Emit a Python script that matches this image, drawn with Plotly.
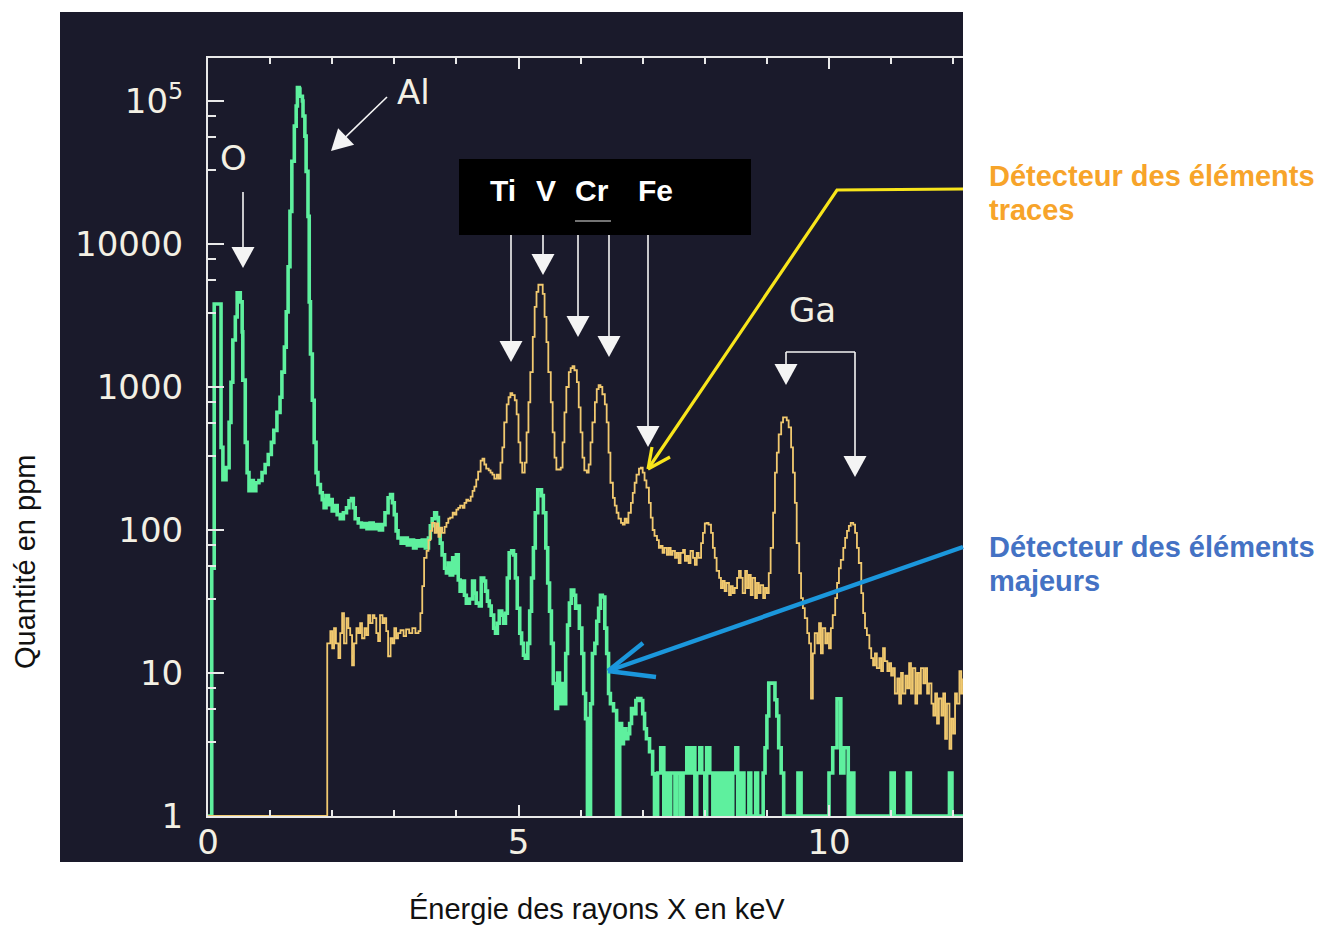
import plotly.graph_objects as go

# ---------------- data ----------------
# "Détecteur des éléments majeurs" (green) : energy (keV) / amount (ppm), step spectrum
green_kev = [
    0.00, 0.06, 0.10, 0.21, 0.24, 0.29, 0.34, 0.37, 0.40, 0.44,
    0.47, 0.52, 0.55, 0.56, 0.60, 0.63, 0.66, 0.69, 0.73, 0.77,
    0.82, 0.87, 0.92, 0.97, 1.02, 1.06, 1.11, 1.16, 1.19, 1.23,
    1.26, 1.29, 1.32, 1.35, 1.39, 1.42, 1.44, 1.47, 1.48, 1.52,
    1.53, 1.56, 1.58, 1.61, 1.63, 1.65, 1.68, 1.71, 1.74, 1.77,
    1.81, 1.84, 1.87, 1.90, 1.94, 1.97, 2.00, 2.03, 2.08, 2.13,
    2.18, 2.23, 2.27, 2.31, 2.34, 2.37, 2.42, 2.47, 2.52, 2.56,
    2.61, 2.66, 2.71, 2.76, 2.81, 2.85, 2.90, 2.94, 2.97, 3.00,
    3.03, 3.06, 3.11, 3.16, 3.21, 3.26, 3.31, 3.35, 3.40, 3.45,
    3.50, 3.55, 3.58, 3.61, 3.65, 3.68, 3.71, 3.74, 3.77, 3.81,
    3.84, 3.87, 3.90, 3.94, 3.97, 4.00, 4.03, 4.06, 4.10, 4.13,
    4.16, 4.21, 4.26, 4.29, 4.32, 4.37, 4.40, 4.44, 4.47, 4.50,
    4.53, 4.56, 4.60, 4.63, 4.66, 4.69, 4.73, 4.76, 4.79, 4.82,
    4.85, 4.89, 4.92, 4.95, 4.98, 5.02, 5.05, 5.08, 5.11, 5.15,
    5.18, 5.21, 5.24, 5.27, 5.31, 5.34, 5.37, 5.40, 5.44, 5.47,
    5.50, 5.53, 5.56, 5.60, 5.63, 5.66, 5.69, 5.73, 5.76, 5.79,
    5.82, 5.85, 5.89, 5.92, 5.95, 5.98, 6.02, 6.05, 6.08, 6.11,
    6.16, 6.19, 6.23, 6.26, 6.29, 6.32, 6.35, 6.39, 6.42, 6.45,
    6.48, 6.53, 6.58, 6.63, 6.66, 6.69, 6.73, 6.76, 6.79, 6.82,
    6.85, 6.89, 6.92, 6.97, 7.00, 7.03, 7.06, 7.11, 7.16, 7.19,
    7.24, 7.29, 7.34, 7.37, 7.42, 7.45, 7.52, 7.55, 7.61, 7.65,
    7.71, 7.76, 7.81, 7.84, 7.87, 7.92, 7.95, 8.00, 8.03, 8.08,
    8.13, 8.16, 8.21, 8.26, 8.31, 8.35, 8.40, 8.45, 8.50, 8.53,
    8.58, 8.63, 8.71, 8.74, 8.82, 8.85, 8.94, 8.97, 9.00, 9.03,
    9.13, 9.16, 9.19, 9.23, 9.27, 9.50, 9.55, 10.00, 10.06, 10.13,
    10.19, 10.24, 10.31, 10.35, 10.40, 11.00, 11.05, 11.26, 11.31, 11.94,
    11.98, 12.16,
]
green_ppm = [
    1, 54, 3810, 378, 225, 273, 566, 1080, 2130, 3090,
    4560, 3940, 2430, 1117, 410, 252, 188, 222, 188, 214,
    222, 252, 287, 337, 410, 497, 665, 848, 1270, 1900,
    3350, 6940, 16900, 37900, 66700, 92300, 124000, 121000, 108000, 100000,
    78500, 56800, 32200, 15600, 3940, 1700, 808, 410, 252, 208,
    182, 163, 143, 174, 150, 163, 136, 148, 128, 120,
    132, 143, 160, 166, 143, 120, 112, 105, 111, 102,
    112, 102, 109, 100, 109, 132, 168, 177, 155, 128,
    98.6, 88, 81, 88, 78.7, 85, 75, 84, 77.4, 85,
    75, 88, 107, 120, 132, 122, 98.6, 81, 67, 54,
    50, 58.8, 48.5, 63.8, 50, 67, 44.7, 37.4, 44, 35,
    30.8, 32.9, 44, 36.2, 30.8, 29.4, 46.2, 44, 37.4, 31.8,
    29.4, 25.4, 20.6, 19, 22.3, 27.1, 25.4, 22.3, 26.2, 46.2,
    69.2, 71.4, 67, 46.2, 28.4, 19, 16.1, 13.3, 12.7, 16.1,
    27.1, 46.2, 75, 132, 191, 191, 174, 132, 75, 42.6,
    27.1, 16.1, 8.45, 5.64, 10, 6.1, 8.45, 6.1, 13.7, 21.6,
    30.8, 38, 35, 28.4, 29.4, 20.6, 13.7, 7.19, 4.8, 1,
    6.1, 13.7, 16.1, 23, 28.4, 35, 34, 20.6, 13.7, 7.19,
    6.1, 5.46, 1, 4.43, 3.2, 4.08, 3.47, 3.77, 4.43, 5.64,
    5.2, 6.42, 6.63, 6.42, 5.2, 4.08, 3.47, 2.82, 1.97, 1,
    2, 3, 1, 2, 1, 2, 1, 2, 1, 2,
    3, 2, 3, 1, 2, 3, 2, 1, 3, 2,
    1, 2, 1, 2, 1, 2, 1, 2, 3, 1,
    2, 1, 2, 1, 2, 1, 2, 3, 5, 8.5,
    6.5, 5, 3, 2, 1, 2, 1, 2, 3, 6.6,
    2, 3, 1, 2, 1, 2, 1, 2, 1, 2,
    1, 1,
]

# "Détecteur des éléments traces" (yellow)
yellow_kev = [
    0.00, 1.92, 1.97, 2.00, 2.03, 2.06, 2.10, 2.13, 2.16, 2.19,
    2.23, 2.26, 2.29, 2.32, 2.35, 2.39, 2.42, 2.45, 2.48, 2.52,
    2.55, 2.58, 2.61, 2.65, 2.68, 2.71, 2.74, 2.77, 2.81, 2.84,
    2.87, 2.90, 2.94, 2.97, 3.00, 3.03, 3.06, 3.10, 3.15, 3.19,
    3.24, 3.29, 3.34, 3.39, 3.42, 3.45, 3.48, 3.52, 3.55, 3.58,
    3.61, 3.65, 3.68, 3.71, 3.74, 3.77, 3.81, 3.84, 3.87, 3.90,
    3.94, 3.97, 4.00, 4.03, 4.06, 4.10, 4.13, 4.16, 4.19, 4.23,
    4.26, 4.29, 4.32, 4.35, 4.39, 4.42, 4.45, 4.48, 4.52, 4.55,
    4.58, 4.61, 4.65, 4.68, 4.71, 4.74, 4.77, 4.81, 4.84, 4.87,
    4.90, 4.94, 4.97, 5.00, 5.03, 5.06, 5.10, 5.13, 5.16, 5.19,
    5.23, 5.26, 5.29, 5.32, 5.39, 5.42, 5.45, 5.48, 5.52, 5.55,
    5.58, 5.61, 5.68, 5.71, 5.74, 5.77, 5.81, 5.84, 5.87, 5.90,
    5.94, 5.97, 6.00, 6.03, 6.06, 6.10, 6.13, 6.16, 6.19, 6.23,
    6.26, 6.29, 6.32, 6.35, 6.39, 6.42, 6.45, 6.48, 6.52, 6.55,
    6.58, 6.61, 6.65, 6.68, 6.71, 6.74, 6.77, 6.81, 6.84, 6.87,
    6.90, 6.94, 6.97, 7.00, 7.03, 7.06, 7.10, 7.13, 7.16, 7.19,
    7.23, 7.26, 7.29, 7.32, 7.35, 7.39, 7.42, 7.45, 7.48, 7.52,
    7.55, 7.58, 7.61, 7.65, 7.68, 7.71, 7.74, 7.77, 7.81, 7.84,
    7.87, 7.90, 7.94, 7.97, 8.00, 8.03, 8.06, 8.10, 8.13, 8.16,
    8.19, 8.23, 8.26, 8.29, 8.32, 8.35, 8.39, 8.42, 8.45, 8.48,
    8.52, 8.55, 8.58, 8.61, 8.65, 8.68, 8.71, 8.74, 8.77, 8.81,
    8.84, 8.87, 8.90, 8.94, 8.97, 9.00, 9.03, 9.06, 9.10, 9.13,
    9.16, 9.19, 9.23, 9.26, 9.32, 9.35, 9.39, 9.42, 9.45, 9.48,
    9.52, 9.55, 9.58, 9.61, 9.65, 9.68, 9.71, 9.74, 9.77, 9.81,
    9.84, 9.87, 9.90, 9.94, 9.97, 10.00, 10.03, 10.06, 10.10, 10.13,
    10.16, 10.19, 10.23, 10.26, 10.29, 10.32, 10.35, 10.39, 10.42, 10.45,
    10.48, 10.52, 10.55, 10.58, 10.61, 10.65, 10.68, 10.71, 10.74, 10.77,
    10.81, 10.84, 10.87, 10.90, 10.94, 10.97, 11.00, 11.03, 11.06, 11.10,
    11.13, 11.16, 11.19, 11.23, 11.26, 11.29, 11.32, 11.35, 11.39, 11.42,
    11.45, 11.48, 11.52, 11.55, 11.58, 11.61, 11.65, 11.68, 11.71, 11.74,
    11.77, 11.81, 11.84, 11.87, 11.90, 11.94, 11.97, 12.00, 12.03, 12.06,
    12.10, 12.13, 12.16,
]
yellow_ppm = [
    1, 16.1, 19.6, 14.9, 20.6, 16.1, 12.7, 19, 26.2, 16.1,
    24.2, 20.6, 18.4, 11.3, 16.1, 20.6, 19, 22.3, 17.5, 20.6,
    18.4, 25.4, 22.3, 25.4, 24.2, 19, 16.7, 25.4, 22.3, 24.2,
    19.6, 13.1, 17.5, 16.1, 20.6, 17.5, 19, 19.9, 18.1, 20.2,
    19, 20.6, 19, 19.6, 26.2, 40.5, 63.8, 71.4, 85, 98.6,
    112, 95.5, 111, 89.6, 104, 95.5, 105, 112, 120, 122,
    132, 128, 139, 143, 148, 143, 155, 163, 160, 171,
    188, 201, 225, 256, 306, 316, 287, 269, 261, 252,
    244, 229, 244, 229, 296, 378, 566, 757, 848, 904,
    876, 808, 644, 410, 296, 252, 296, 482, 782, 1270,
    2240, 3630, 4630, 5190, 4480, 3090, 2060, 1270, 782, 482,
    321, 265, 273, 410, 665, 1000, 1270, 1355, 1400, 1310,
    1080, 721, 482, 321, 261, 252, 287, 410, 566, 782,
    966, 1030, 1000, 890, 757, 566, 348, 214, 168, 148,
    132, 120, 112, 109, 120, 112, 132, 155, 182, 214,
    244, 269, 273, 252, 222, 198, 155, 122, 100, 91,
    85, 75, 77.4, 69.2, 75, 67, 75, 67, 71.4, 63.8,
    69.2, 58.8, 69.2, 72.6, 60.8, 65.9, 58.8, 71.4, 63.8, 57,
    69.2, 63.8, 81, 95.5, 111, 112, 109, 95.5, 75, 63.8,
    51.7, 46.2, 39.3, 44, 37.4, 42.6, 35, 40.5, 36.2, 39.3,
    46.2, 51.7, 46.2, 36.2, 51.7, 39.3, 48.5, 35, 46.2, 33.4,
    42.6, 36.2, 41.2, 33.4, 39.3, 36.2, 50, 75, 132, 252,
    348, 466, 566, 614, 585, 522, 378, 252, 155, 81,
    50, 33.4, 28.4, 24.2, 19, 16.1, 6.63, 13.7, 19, 16.1,
    22.3, 13.7, 20.6, 16.1, 19, 14.9, 20.6, 25.4, 33.4, 42.6,
    54, 61.8, 75, 88, 98.6, 107, 112, 109, 95.5, 75,
    58.8, 36.2, 26.2, 20.6, 18.4, 14.9, 12.7, 11.3, 13.7, 10.8,
    12.7, 10.3, 14.9, 12.1, 10.3, 11.7, 9.6, 10.8, 7.19, 9.16,
    6.1, 10, 7.19, 9.6, 7.8, 11.7, 7.19, 10.8, 6.1, 10,
    7.19, 10.8, 8.45, 10.8, 7.19, 8.45, 6.1, 5.04, 7.19, 4.43,
    6.63, 5.04, 7.19, 3.47, 6.1, 2.95, 4.8, 3.77, 7.19, 6.1,
    10.3, 7.19, 9.16,
]

x_tick_vals = [0, 5, 10]
x_tick_text = ["0", "5", "10"]
x_minor_vals = [1, 2, 3, 4, 6, 7, 8, 9, 11, 12]
y_tick_vals = [1, 10, 100, 1000, 10000, 100000]
y_tick_text = ["1", "10", "100", "1000", "10000", "10<sup>5</sup>"]
y_minor_vals = [3.3, 5.6, 7.9, 33, 56, 79, 330, 560, 790,
                3300, 5600, 7900, 33000, 56000, 79000]

peak_labels = ["O", "Al", "Ga"]
line_labels = ["Ti", "V", "Cr", "Fe"]
x_title = "Énergie des rayons X en keV"
y_title = "Quantité en ppm"
trace_label = ["Détecteur des éléments", "traces"]
major_label = ["Détecteur des éléments", "majeurs"]

# ---------------- layout geometry ----------------
W, H = 1321, 926
PL, PR, PT, PB = 208, 963, 58, 816      # plot frame (page pixels)
KEV_PX = 62.1
DEC_PX = 143.0
XMAX = (PR - PL) / KEV_PX
YMAX = (PB - PT) / DEC_PX

BG = "#1a1a2b"
AXIS = "#e9e9e9"
LAB = "#f3f0e4"
WHITE = "#f4f4f4"
GREEN = "#5ef09e"
YELLOW = "#f1c96f"
PTR_Y = "#f8e51b"
PTR_B = "#1b97dc"
ORANGE = "#f7a42a"
BLUE = "#4472c4"


def X(px):
    return (px - PL) / (PR - PL)


def Y(py):
    return (PB - py) / (PB - PT)


shapes = []
annotations = []


def seg(p0, p1, color, width):
    shapes.append(dict(type="line", xref="paper", yref="paper",
                       x0=X(p0[0]), y0=Y(p0[1]), x1=X(p1[0]), y1=Y(p1[1]),
                       line=dict(color=color, width=width), layer="above"))


def arrow(tail, tip, color=WHITE, lw=1.6, hl=21, hw=23):
    (x0, y0), (x1, y1) = tail, tip
    dx, dy = x1 - x0, y1 - y0
    d = (dx * dx + dy * dy) ** 0.5
    ux, uy = dx / d, dy / d
    bx, by = x1 - ux * hl, y1 - uy * hl
    nx, ny = -uy, ux
    seg(tail, (bx + ux * 2, by + uy * 2), color, lw)
    p1 = (bx + nx * hw / 2, by + ny * hw / 2)
    p2 = (bx - nx * hw / 2, by - ny * hw / 2)
    path = "M {:.5f},{:.5f} L {:.5f},{:.5f} L {:.5f},{:.5f} Z".format(
        X(x1), Y(y1), X(p1[0]), Y(p1[1]), X(p2[0]), Y(p2[1]))
    shapes.append(dict(type="path", xref="paper", yref="paper", path=path,
                       fillcolor=color, line=dict(width=0), layer="above"))


# dark panel behind the chart
shapes.append(dict(type="rect", xref="paper", yref="paper",
                   x0=X(60), x1=X(963), y0=Y(862), y1=Y(12),
                   fillcolor=BG, line=dict(width=0), layer="below"))
# black label box
shapes.append(dict(type="rect", xref="paper", yref="paper",
                   x0=X(459), x1=X(751), y0=Y(235), y1=Y(159),
                   fillcolor="#000000", line=dict(width=0), layer="above"))
seg((575, 221), (611, 221), "#9a9a9a", 1.5)

# white arrows
arrow((243, 192), (243, 268))
arrow((387, 97), (331, 151))
arrow((511, 235), (511, 362))
arrow((543, 235), (543, 275))
arrow((578, 235), (578, 337))
arrow((609, 235), (609, 357))
arrow((648, 235), (648, 447))
seg((786, 352), (855, 352), WHITE, 1.6)
arrow((786, 352), (786, 385))
arrow((855, 352), (855, 477))

# yellow pointer (trace detector)
shapes.append(dict(type="path", xref="paper", yref="paper",
                   path="M {:.5f},{:.5f} L {:.5f},{:.5f} L {:.5f},{:.5f}".format(
                       X(963), Y(189), X(837), Y(190), X(648), Y(469)),
                   line=dict(color=PTR_Y, width=3.2), fillcolor="rgba(0,0,0,0)",
                   layer="above"))
seg((648, 469), (652, 447), PTR_Y, 3.2)
seg((648, 469), (670, 457), PTR_Y, 3.2)

# blue pointer (major detector)
seg((963, 547), (608, 671), PTR_B, 4.5)
seg((608, 671), (643, 643), PTR_B, 4.5)
seg((608, 671), (656, 677), PTR_B, 4.5)

# ---------------- texts ----------------
LBL_FONT = dict(family="DejaVu Sans", size=34, color=LAB)
for txt, px, py in zip(peak_labels, [233, 413, 812], [158, 92, 310]):
    annotations.append(dict(text=txt, xref="paper", yref="paper", x=X(px), y=Y(py),
                            showarrow=False, font=LBL_FONT,
                            xanchor="center", yanchor="middle"))
for txt, px in zip(line_labels, [503, 546, 592, 655]):
    annotations.append(dict(text="<b>" + txt + "</b>", xref="paper", yref="paper",
                            x=X(px), y=Y(190), showarrow=False,
                            font=dict(family="Liberation Sans", size=30, color="#ffffff"),
                            xanchor="center", yanchor="middle"))
for i, txt in enumerate(trace_label):
    annotations.append(dict(text="<b>" + txt + "</b>", xref="paper", yref="paper",
                            x=X(987), y=Y(176 + 34 * i), showarrow=False,
                            font=dict(family="Liberation Sans", size=29, color=ORANGE),
                            xanchor="left", yanchor="middle"))
for i, txt in enumerate(major_label):
    annotations.append(dict(text="<b>" + txt + "</b>", xref="paper", yref="paper",
                            x=X(987), y=Y(547 + 34 * i), showarrow=False,
                            font=dict(family="Liberation Sans", size=29, color=BLUE),
                            xanchor="left", yanchor="middle"))
annotations.append(dict(text=x_title, xref="paper", yref="paper", x=X(597), y=Y(909),
                        showarrow=False, xanchor="center", yanchor="middle",
                        font=dict(family="Liberation Sans", size=29, color="#111111")))
annotations.append(dict(text=y_title, xref="paper", yref="paper", x=X(25), y=Y(562),
                        showarrow=False, xanchor="center", yanchor="middle", textangle=-90,
                        font=dict(family="Liberation Sans", size=29, color="#111111")))

# ---------------- figure ----------------
fig = go.Figure()
fig.add_trace(go.Scatter(x=green_kev, y=green_ppm, mode="lines",
                         line=dict(color=GREEN, width=3.6, shape="hv"),
                         hoverinfo="skip", name="majeurs"))
fig.add_trace(go.Scatter(x=yellow_kev, y=yellow_ppm, mode="lines",
                         line=dict(color=YELLOW, width=1.8, shape="hv"),
                         hoverinfo="skip", name="traces"))

fig.update_layout(
    width=W, height=H,
    margin=dict(l=PL, r=W - PR, t=PT, b=H - PB, pad=0, autoexpand=False),
    paper_bgcolor="#ffffff", plot_bgcolor=BG,
    showlegend=False, hovermode=False,
    shapes=shapes, annotations=annotations,
    xaxis=dict(range=[0, XMAX], tickmode="array", tickvals=x_tick_vals,
               ticktext=x_tick_text, ticks="inside", ticklen=11, tickwidth=2,
               tickcolor=AXIS, showline=True, linecolor=AXIS, linewidth=2,
               mirror="allticks", showgrid=False, zeroline=False,
               tickfont=dict(family="DejaVu Sans", size=34, color=LAB),
               ticklabelstandoff=-5,
               minor=dict(tickmode="array", tickvals=x_minor_vals, ticks="inside",
                          ticklen=6, tickwidth=1.6, tickcolor=AXIS, showgrid=False)),
    yaxis=dict(type="log", range=[0, YMAX], tickmode="array", tickvals=y_tick_vals,
               ticktext=y_tick_text, ticks="inside", ticklen=16, tickwidth=2,
               tickcolor=AXIS, showline=True, linecolor=AXIS, linewidth=2,
               mirror=False, showgrid=False, zeroline=False,
               tickfont=dict(family="DejaVu Sans", size=34, color=LAB),
               ticklabelstandoff=16,
               minor=dict(tickmode="array", tickvals=y_minor_vals, ticks="inside",
                          ticklen=8, tickwidth=1.6, tickcolor=AXIS, showgrid=False)),
)

fig.write_html("out.html", config={"displayModeBar": False},
               post_script="document.body.style.margin='0';document.body.style.overflow='hidden';")
